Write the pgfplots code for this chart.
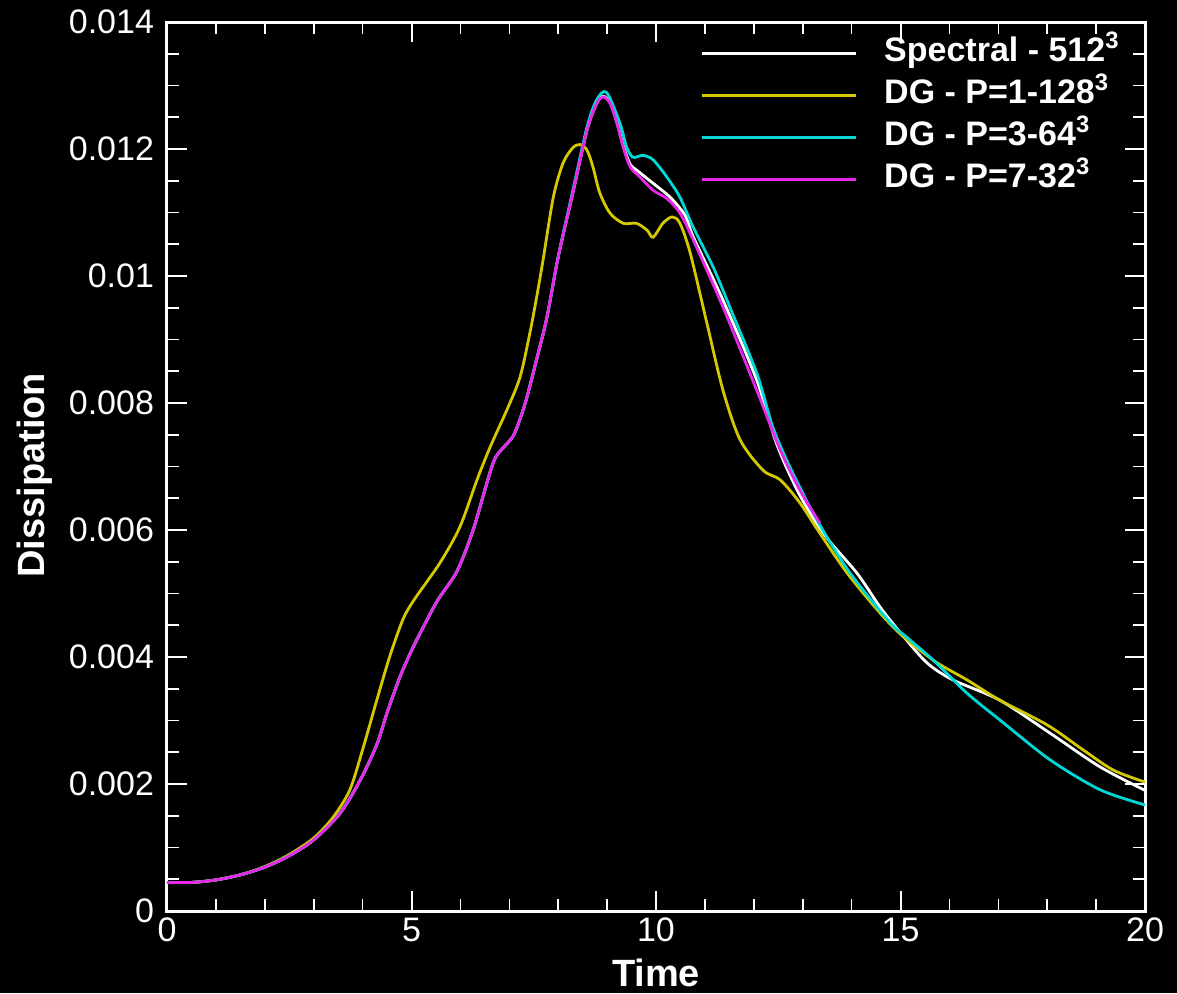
\documentclass[border=0pt]{standalone}
\usepackage{fontspec}
\setmainfont{Liberation Sans}
\usepackage{pgfplots}
\pgfplotsset{compat=1.18}

\definecolor{dgone}{RGB}{212,200,0}
\definecolor{dgthree}{RGB}{0,215,215}
\definecolor{dgseven}{RGB}{232,40,232}

\begin{document}
\begin{tikzpicture}
\fill[black] (-83.5pt,-41pt) rectangle (505pt,455.5pt);
\begin{axis}[
    scale only axis,
    width=489pt, height=444.5pt,
    xmin=0, xmax=20, ymin=0, ymax=0.014,
    axis line style={white, line width=1.5pt},
    every tick/.style={white, line width=1pt},
    minor tick style={white, line width=0.8pt},
    tick align=inside,
    major tick length=10pt, minor tick length=6pt,
    xtick={0,5,10,15,20}, xticklabels={0,5,10,15,20},
    minor x tick num=4,
    ytick={0,0.002,0.004,0.006,0.008,0.01,0.012,0.014},
    yticklabels={0,0.002,0.004,0.006,0.008,0.01,0.012,0.014},
    minor y tick num=3,
    scaled y ticks=false,
    ticklabel style={font=\fontsize{17}{19}\selectfont, text=white},
    yticklabel style={xshift=-3pt},
    xlabel={Time}, ylabel={Dissipation},
    label style={font=\fontsize{19}{22}\selectfont\bfseries, text=white},
    xlabel style={at={(axis description cs:0.5,-0.0697)}, anchor=center},
    ylabel style={at={(axis description cs:-0.135,0.49)}, anchor=center},
    legend cell align=left,
    legend image code/.code={\draw[#1] (0pt,0pt) -- (77pt,0pt);},
    legend style={at={(rel axis cs:0.545,0.983)}, anchor=north west,
        draw=none, fill=none, text=white, inner sep=0pt,
        font=\fontsize{17}{19}\selectfont\bfseries,
        nodes={text height=12pt, text depth=4pt, inner sep=0pt},
        row sep=5pt,
        /tikz/every odd column/.append style={column sep=13.5pt}},
    every axis plot/.append style={line width=1.4pt, smooth},
]
% Spectral 512^3
\addplot[white] coordinates {
(0,0.00045) (0.5,0.00045) (1,0.00049) (1.5,0.00057) (2,0.00069) (2.5,0.00087)
(3,0.00112) (3.54,0.00154) (3.95,0.00206) (4.29,0.00262) (4.5,0.00312)
(4.76,0.00368) (5,0.0041) (5.24,0.00447) (5.54,0.0049) (5.93,0.00535)
(6.26,0.006) (6.56,0.00679) (6.71,0.00713) (6.87,0.00729) (7.08,0.00748)
(7.22,0.00775) (7.36,0.00809) (7.57,0.00872) (7.77,0.00935) (8,0.0103)
(8.3,0.01131) (8.59,0.0123) (8.79,0.01272) (8.92,0.01283) (9.06,0.01273)
(9.2,0.01242) (9.33,0.01205) (9.47,0.01176) (9.6,0.01167) (9.94,0.01146)
(10.29,0.01124) (10.6,0.01095) (10.76,0.01062) (11.37,0.00962) (12.06,0.00836)
(12.47,0.00735) (12.94,0.00655) (13.45,0.00592) (14.11,0.00532)
(14.58,0.00479) (15,0.00438) (15.54,0.00391) (16.07,0.00364) (17.03,0.00332)
(18.06,0.0028) (19.08,0.00227) (20,0.0019)
};
\addlegendentry{Spectral - 512\textsuperscript{3}}
% DG P=1
\addplot[dgone] coordinates {
(0,0.00045) (0.5,0.00045) (1,0.00049) (1.5,0.00057) (2,0.0007) (2.5,0.00089)
(3,0.00115) (3.4,0.00148) (3.74,0.00191) (4,0.00254) (4.29,0.00332)
(4.56,0.00402) (4.83,0.0046) (5.07,0.00492) (5.58,0.00548) (5.99,0.00605)
(6.34,0.00679) (6.61,0.00731) (6.95,0.00789) (7.22,0.00841) (7.42,0.0091)
(7.56,0.00967) (7.69,0.01025) (7.9,0.01124) (8.1,0.01178) (8.3,0.01202)
(8.45,0.01207) (8.59,0.01198) (8.71,0.01172) (8.85,0.01131) (9.06,0.01099)
(9.33,0.01083) (9.6,0.01083) (9.82,0.01072) (9.94,0.01061) (10.14,0.01083)
(10.33,0.01093) (10.49,0.01083) (10.7,0.01036) (11.04,0.00926) (11.37,0.0082)
(11.72,0.00742) (12.19,0.00694) (12.54,0.00679) (12.94,0.00643) (13.35,0.00595)
(13.97,0.00526) (14.85,0.00447) (15.67,0.00395) (16.36,0.00364) (17.03,0.00332)
(18,0.00293) (18.73,0.00254) (19.35,0.00222) (20,0.00203)
};
\addlegendentry{DG - P=1-128\textsuperscript{3}}
% DG P=3
\addplot[dgthree] coordinates {
(0,0.00045) (0.5,0.00045) (1,0.00049) (1.5,0.00057) (2,0.00069) (2.5,0.00087)
(3,0.00112) (3.54,0.00154) (3.95,0.00206) (4.29,0.00262) (4.5,0.00312)
(4.76,0.00368) (5,0.0041) (5.24,0.00447) (5.54,0.0049) (5.93,0.00535)
(6.26,0.006) (6.56,0.00679) (6.71,0.00713) (6.87,0.00729) (7.08,0.00748)
(7.22,0.00775) (7.36,0.00809) (7.57,0.00872) (7.77,0.00935) (8,0.0103)
(8.3,0.01135) (8.59,0.01235) (8.79,0.01278) (8.99,0.01289) (9.26,0.01241)
(9.4,0.01203) (9.53,0.01187) (9.73,0.0119) (9.94,0.01183) (10.22,0.01156)
(10.49,0.01124) (10.76,0.01077) (11.17,0.01014) (11.51,0.00951) (12.06,0.00847)
(12.39,0.00762) (12.74,0.00699) (13.29,0.00616) (13.97,0.00532) (14.79,0.00454)
(15.13,0.00431) (15.67,0.00395) (16.36,0.00343) (17.03,0.00301) (18.06,0.00238)
(19.08,0.00191) (20,0.00167)
};
\addlegendentry{DG - P=3-64\textsuperscript{3}}
% DG P=7
\addplot[dgseven] coordinates {
(0,0.00045) (0.5,0.00045) (1,0.00049) (1.5,0.00057) (2,0.00069) (2.5,0.00087)
(3,0.00112) (3.54,0.00154) (3.95,0.00206) (4.29,0.00262) (4.5,0.00312)
(4.76,0.00368) (5,0.0041) (5.24,0.00447) (5.54,0.0049) (5.93,0.00535)
(6.26,0.006) (6.56,0.00679) (6.71,0.00713) (6.87,0.00729) (7.08,0.00748)
(7.22,0.00775) (7.36,0.00809) (7.57,0.00872) (7.77,0.00935) (8,0.0103)
(8.3,0.01131) (8.59,0.0123) (8.79,0.01272) (8.92,0.01282) (9.06,0.01272)
(9.2,0.01241) (9.33,0.01203) (9.47,0.01172) (9.67,0.01156) (9.94,0.01135)
(10.22,0.01122) (10.49,0.01099) (10.76,0.01057) (11.37,0.00951) (12.06,0.0082)
(12.54,0.00726) (12.94,0.00663) (13.35,0.00611)
};
\addlegendentry{DG - P=7-32\textsuperscript{3}}
\end{axis}
\pgfresetboundingbox
\path (-83.5pt,-41pt) rectangle (505pt,455.5pt);
\end{tikzpicture}
\end{document}
